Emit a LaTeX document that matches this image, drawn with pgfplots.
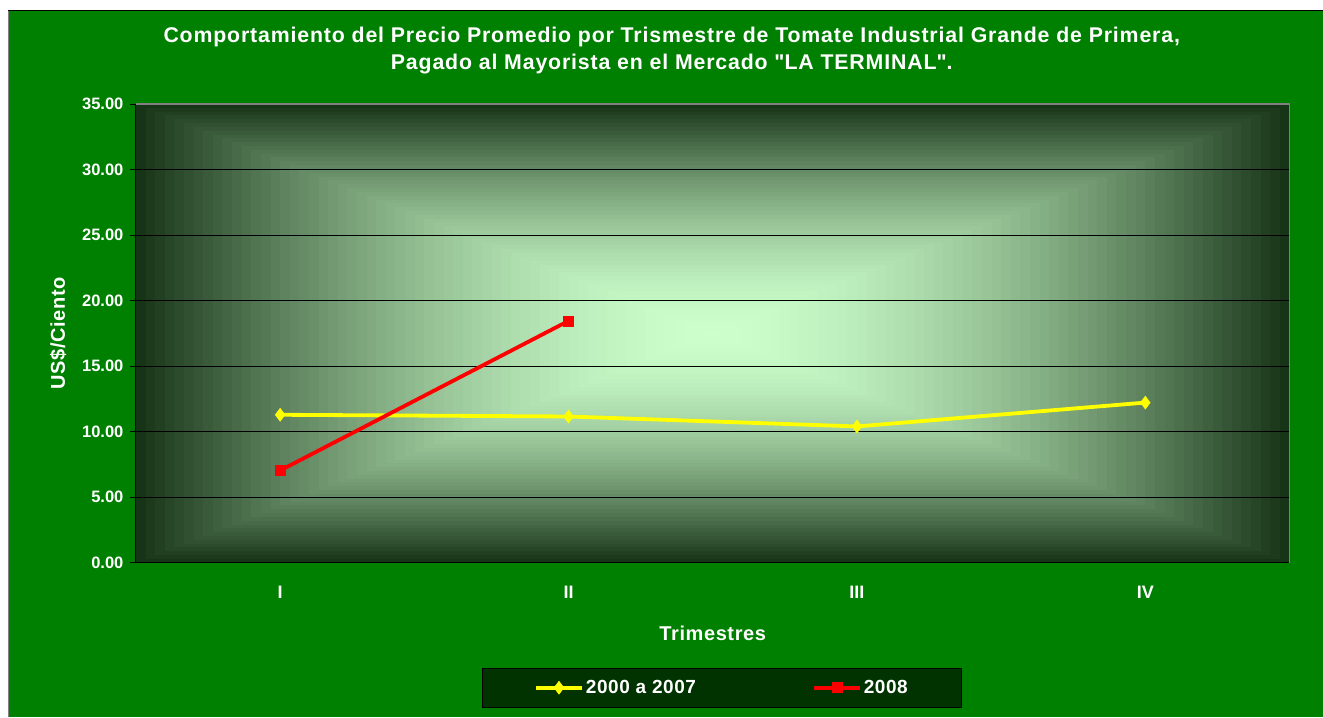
\documentclass[border=0pt]{standalone}
\usepackage{fontspec}
\setmainfont{Liberation Sans}
\usepackage{pgfplots}
\pgfplotsset{compat=1.18}
\usetikzlibrary{calc}
\definecolor{bggreen}{RGB}{0,128,0}
\definecolor{legbg}{RGB}{0,51,0}
\definecolor{darkedge}{RGB}{24,52,24}
\definecolor{lightc}{RGB}{204,255,204}
\definecolor{ser1}{RGB}{255,255,0}
\definecolor{ser2}{RGB}{255,0,0}
\definecolor{frame}{RGB}{128,128,128}
\begin{document}
\begin{tikzpicture}[x=1pt,y=1pt]
\fill[white] (0,0) rectangle (1323,717);
\fill[bggreen] (8,0) rectangle (1323,706);
\draw[frame, line width=1pt] (8.5,0) -- (8.5,706);
\draw[black, line width=1pt] (8,706) -- (1323,706);
\node[white, font=\fontsize{21.3}{27}\selectfont\bfseries\addfontfeature{LetterSpace=4}, align=center] at (672,666.5)
  {Comportamiento del Precio Promedio por Trismestre de Tomate Industrial Grande de Primera,\\
   Pagado al Mayorista en el Mercado \textquotedbl LA TERMINAL\textquotedbl .};
\begin{axis}[
  at={(136pt,154pt)}, anchor=south west,
  scale only axis, width=1154pt, height=459pt,
  xmin=-0.5, xmax=3.5, ymin=0, ymax=35,
  xtick={0,1,2,3}, xticklabels={I,II,III,IV},
  ytick={0,5,10,15,20,25,30,35},
  axis x line*=bottom, axis y line*=left,
  axis line style={black, line width=1pt},
  x axis line style={-}, y axis line style={-},
  xtick style={draw=none},
  ytick style={black, line width=0.8pt},
  tick align=outside, major tick length=6pt,
  ymajorgrids, grid style={black, line width=0.8pt},
  axis background/.style={fill=darkedge, path picture={
    \foreach \i in {0,...,59}{
      \pgfmathsetmacro{\s}{1-\i/60}
      \pgfmathsetmacro{\p}{100*(1-\s^1.7)}
      \fill[lightc!\p!darkedge]
        ($(path picture bounding box.center)!\s!(path picture bounding box.south west)$) rectangle
        ($(path picture bounding box.center)!\s!(path picture bounding box.north east)$);
    }
  }},
  /pgf/number format/assume math mode=true,
  yticklabel style={/pgf/number format/fixed, /pgf/number format/zerofill, /pgf/number format/precision=2,
     font=\fontsize{16.5}{19}\selectfont\bfseries, text=white, xshift=-3pt},
  xticklabel style={font=\fontsize{18}{21}\selectfont\bfseries, text=white, yshift=-14pt},
  xlabel={Trimestres}, ylabel={US\$/Ciento},
  xlabel style={font=\fontsize{20}{24}\selectfont\bfseries\addfontfeature{LetterSpace=3}, text=white, yshift=-20pt},
  ylabel style={font=\fontsize{20}{24}\selectfont\bfseries\addfontfeature{LetterSpace=3}, text=white, yshift=9pt},
  legend columns=2,
  legend style={at={(0.508,-0.2723)}, anchor=center, fill=legbg, draw=black, line width=0.8pt,
     text=white, font=\fontsize{19}{22}\selectfont\bfseries\addfontfeature{LetterSpace=3}, inner xsep=52pt, inner ysep=10pt,
     /tikz/every even column/.append style={column sep=114pt}},
  legend image code/.code={
     \draw[#1, line width=3.5pt] (0pt,0pt) -- (46pt,0pt);
     \draw[#1, mark repeat=2, mark phase=2] plot coordinates {(0pt,0pt) (23pt,0pt) (46pt,0pt)};},
  clip=false,
]
\addplot[color=ser1, line width=3.8pt, mark=diamond*, mark size=6.5pt, mark options={fill=ser1, draw=ser1, line width=0.5pt}]
  coordinates {(0,11.29) (1,11.16) (2,10.40) (3,12.22)};
\addlegendentry{2000 a 2007}
\addplot[color=ser2, line width=3.8pt, mark=square*, mark size=5pt, mark options={fill=ser2, draw=ser2, line width=0.5pt}]
  coordinates {(0,7.04) (1,18.45)};
\addlegendentry{2008}
\draw[frame, line width=1.2pt] (rel axis cs:0,1) -- (rel axis cs:1,1) -- (rel axis cs:1,0);
\end{axis}
\end{tikzpicture}
\end{document}
